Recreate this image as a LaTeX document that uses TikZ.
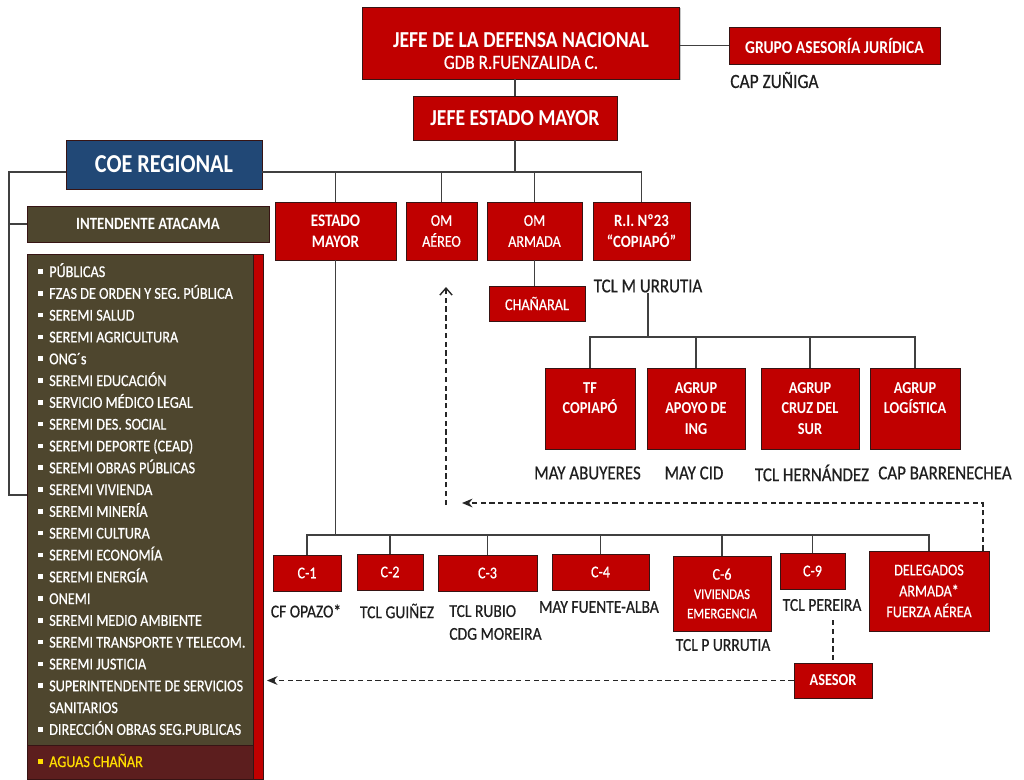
\documentclass[tikz,border=0pt]{standalone}
\usepackage{fontspec}
\setmainfont{Carlito}[FakeStretch=0.86,UprightFeatures={FakeBold=0.6}]
\usetikzlibrary{arrows.meta,positioning,shadows}

\definecolor{boxred}{RGB}{192,0,0}
\definecolor{boxedge}{RGB}{55,20,20}
\definecolor{coeolive}{RGB}{78,70,46}
\definecolor{coeblue}{RGB}{33,72,118}
\definecolor{wine}{RGB}{92,30,30}
\definecolor{gold}{RGB}{255,222,0}
\definecolor{linegray}{RGB}{64,64,64}

\newcommand{\fsz}[2]{\fontsize{#1}{#2}\selectfont}
\newcommand{\bul}{\makebox[6.2pt][l]{\raisebox{1.8pt}{\rule{2.6pt}{2.6pt}}}}
\newcommand{\nobul}{\hspace*{6.2pt}}

\tikzset{
  sz/.style 2 args={minimum width={#1*0.02cm},minimum height={#2*0.02cm}},
  redbox/.style={draw=boxedge,line width=0.5pt,fill=boxred,text=white,align=center,inner sep=0pt,
    drop shadow={shadow xshift=0.8pt,shadow yshift=-0.8pt,opacity=0.45}},
  brownbox/.style={draw=boxedge,line width=0.5pt,fill=coeolive,text=white,inner sep=0pt},
  bluebox/.style={draw=boxedge,line width=0.5pt,fill=coeblue,text=white,inner sep=0pt,
    drop shadow={shadow xshift=0.8pt,shadow yshift=-0.8pt,opacity=0.45}},
  lbl/.style={text=black!88,inner sep=0pt,font=\fsz{10.3pt}{13pt}},
  listitem/.style={anchor=base west,inner sep=0pt,text=white,font=\fsz{9.4pt}{12pt}},
  conn/.style={draw=linegray,line width=0.8pt},
  dashlink/.style={draw=black!85,line width=0.8pt,dash pattern=on 3pt off 2pt},
}

\begin{document}
\begin{tikzpicture}[x=0.02cm,y=-0.02cm]
  \useasboundingbox (0,0) rectangle (1024,779);
  \clip (0,0) rectangle (1024,779);

  % top of the chart
  \node[redbox,sz={317}{72},font=\fsz{13pt}{12pt}\bfseries] (jdn) at (521,43)
    {\rule{0pt}{17.5pt}JEFE DE LA DEFENSA NACIONAL\\{\fsz{11.4pt}{12pt}\mdseries GDB R.FUENZALIDA C.}};
  \node[redbox,sz={211}{37},font=\fsz{10.3pt}{12pt}\bfseries] (gaj) at (834.5,45.5) {GRUPO ASESORÍA JURÍDICA};
  \node[lbl,anchor=west,font=\fsz{11.5pt}{13pt}] (zun) at (730,80) {CAP ZUÑIGA};
  \node[redbox,sz={204}{44},font=\fsz{13pt}{12pt}\bfseries] (jem) at (515,118) {JEFE ESTADO MAYOR};
  \node[bluebox,sz={196}{49},font=\fsz{14.7pt}{14pt}\bfseries] (coe) at (164,164.5) {COE REGIONAL};

  % COE regional column
  \node[brownbox,sz={242}{36},font=\fsz{9.8pt}{12pt}\bfseries] (int) at (148,224) {INTENDENTE ATACAMA};
  \node[brownbox,sz={226}{491}] (lst) at (140,499.5) {};
  \node[draw=boxedge,line width=0.5pt,fill=boxred,inner sep=0pt,sz={10}{525}] (strip) at (258,516.5) {};
  \node[draw=boxedge,line width=0.5pt,fill=wine,inner sep=0pt,sz={226}{34}] (agu) at (140,762) {};
  \foreach \t [count=\i from 0] in {{\bul PÚBLICAS},{\bul FZAS DE ORDEN Y SEG. PÚBLICA},{\bul SEREMI SALUD},
      {\bul SEREMI AGRICULTURA},{\bul ONG´s},{\bul SEREMI EDUCACIÓN},{\bul SERVICIO MÉDICO LEGAL},
      {\bul SEREMI DES. SOCIAL},{\bul SEREMI DEPORTE (CEAD)},{\bul SEREMI OBRAS PÚBLICAS},
      {\bul SEREMI VIVIENDA},{\bul SEREMI MINERÍA},{\bul SEREMI CULTURA},{\bul SEREMI ECONOMÍA},
      {\bul SEREMI ENERGÍA},{\bul ONEMI},{\bul SEREMI MEDIO AMBIENTE},{\bul SEREMI TRANSPORTE Y TELECOM.},
      {\bul SEREMI JUSTICIA},{\bul SUPERINTENDENTE DE SERVICIOS},{\nobul SANITARIOS},
      {\bul DIRECCIÓN OBRAS SEG.PUBLICAS}}
    \node[listitem] (it\i) at (38,{277+21.8*\i}) {\t};
  \node[listitem,text=gold] (itagu) at (38,767) {\bul AGUAS CHAÑAR};

  % second row
  \node[redbox,sz={121}{58},font=\fsz{10pt}{11.9pt}\bfseries] (em) at (335.5,231) {ESTADO\\MAYOR};
  \node[redbox,sz={71}{58},font=\fsz{9.3pt}{11.9pt}] (oma) at (441.5,231) {OM\\AÉREO};
  \node[redbox,sz={95}{58},font=\fsz{9.3pt}{11.9pt}] (omr) at (534.5,231) {OM\\ARMADA};
  \node[redbox,sz={97}{58},font=\fsz{9.8pt}{11.9pt}\bfseries] (ri) at (641.5,231) {R.I. Nº23\\“COPIAPÓ”};
  \node[redbox,sz={96}{35},font=\fsz{9.4pt}{12pt}] (cha) at (537,303.5) {CHAÑARAL};
  \node[lbl,font=\fsz{11.2pt}{13pt}] (tmu) at (648,286) {TCL M URRUTIA};

  % regiment units
  \node[redbox,sz={90}{81},font=\fsz{9.5pt}{11.9pt}\bfseries] (tf) at (590,408.5) {TF\\COPIAPÓ\\\mbox{}};
  \node[redbox,sz={98}{81},font=\fsz{9.5pt}{11.9pt}\bfseries] (apo) at (696,408.5) {AGRUP\\APOYO DE\\ING};
  \node[redbox,sz={98}{81},font=\fsz{9.5pt}{11.9pt}\bfseries] (cru) at (810,408.5) {AGRUP\\CRUZ DEL\\SUR};
  \node[redbox,sz={90}{81},font=\fsz{9.5pt}{11.9pt}\bfseries] (log) at (915,408.5) {AGRUP\\LOGÍSTICA\\\mbox{}};
  \node[lbl,font=\fsz{11.2pt}{13pt}] (lab) at (587.5,473) {MAY ABUYERES};
  \node[lbl,font=\fsz{11.2pt}{13pt}] (lcid) at (694,473) {MAY CID};
  \node[lbl,font=\fsz{11.2pt}{13pt}] (lher) at (812,473) {TCL HERNÁNDEZ};
  \node[lbl,font=\fsz{11.2pt}{13pt}] (lbar) at (945,473) {CAP BARRENECHEA};

  % staff sections
  \node[redbox,sz={68}{36},font=\fsz{9.3pt}{12pt}] (c1) at (307,573) {C-1};
  \node[redbox,sz={66}{36},font=\fsz{9.3pt}{12pt}] (c2) at (390,572) {C-2};
  \node[redbox,sz={99}{36},font=\fsz{9.3pt}{12pt}] (c3) at (487.5,573) {C-3};
  \node[redbox,sz={97}{36},font=\fsz{9.3pt}{12pt}] (c4) at (600.5,572) {C-4};
  \node[redbox,sz={98}{75},font=\fsz{9.3pt}{11pt}] (c6) at (722,593.5)
    {C-6\\{\fsz{8.4pt}{11pt}VIVIENDAS}\\{\fsz{8.4pt}{11pt}EMERGENCIA}};
  \node[redbox,sz={65}{36},font=\fsz{9.3pt}{12pt}] (c9) at (812.5,571) {C-9};
  \node[redbox,sz={120}{80},font=\fsz{9.3pt}{11.9pt}] (del) at (929,591) {DELEGADOS\\ARMADA*\\FUERZA AÉREA};
  \node[lbl] (lop) at (306,611) {CF OPAZO*};
  \node[lbl] (lgu) at (397,611) {TCL GUIÑEZ};
  \node[lbl,anchor=west,align=left] (lru) at (449,622.5) {TCL RUBIO\\CDG MOREIRA};
  \node[lbl] (lfa) at (599,607) {MAY FUENTE-ALBA};
  \node[lbl] (lpu) at (723,645) {TCL P URRUTIA};
  \node[lbl] (lpe) at (822,605) {TCL PEREIRA};
  \node[redbox,sz={78}{35},font=\fsz{9.5pt}{12pt}\bfseries] (ase) at (833,680.5) {ASESOR};

  % connectors
  \coordinate (top) at (0,172);
  \coordinate (mid) at (0,337);
  \coordinate (low) at (0,535);
  \coordinate (lc) at (9,172);
  \coordinate (lb) at (9,495);
  \draw[conn] (gaj.west -| jdn.east) -- (gaj.west);
  \draw[conn] (jem.north |- jdn.south) -- (jem.north);
  \draw[conn] (jem.south) -- (jem.south |- top);
  \draw[conn] (coe.east |- top) -- (ri.north |- top) -- (ri.north);
  \draw[conn] (coe.west |- top) -- (lc) -- (lb) -- (lst.west |- lb);
  \draw[conn] (lc |- int.west) -- (int.west);
  \foreach \n in {em,oma,omr}
    \draw[conn] (\n.north) -- (\n.north |- top);
  \draw[conn] (omr.south) -- (omr.south |- cha.north);
  \draw[conn] (tmu.south) -- (tmu.south |- mid);
  \draw[conn] (tf.north) -- (tf.north |- mid) -- (log.north |- mid) -- (log.north);
  \foreach \n in {apo,cru}
    \draw[conn] (\n.north) -- (\n.north |- mid);
  \draw[conn] (em.south) -- (em.south |- low);
  \draw[conn] (c1.north) -- (c1.north |- low) -- (del.north |- low) -- (del.north);
  \foreach \n in {c2,c3,c4,c6,c9}
    \draw[conn] (\n.north) -- (\n.north |- low);

  % dashed links
  \coordinate (dtop) at (983,503);
  \coordinate (dend) at (462,503);
  \coordinate (vbot) at (446,505);
  \coordinate (vtop) at (446,287);
  \draw[dashlink,shorten <=5pt] (ase.north |- lpe.south) -- (ase.north);
  \draw[dashlink,shorten >=2pt,-{Stealth[length=6pt,width=5pt]}] (ase.west) -- (ase.west -| strip.east);
  \draw[dashlink,-{Stealth[length=6pt,width=5pt]}] (dtop |- del.north) -- (dtop) -- (dend);
  \draw[dashlink,-{Straight Barb[length=4pt,width=7pt]}] (vbot) -- (vtop);
\end{tikzpicture}
\end{document}
